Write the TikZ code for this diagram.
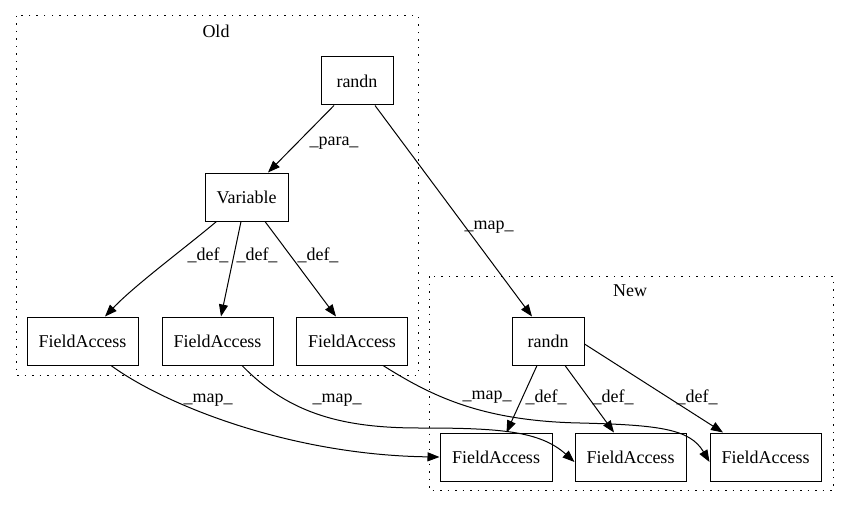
\documentclass[tikz,border=0pt]{standalone}
\usepackage{fontspec}
\setmainfont{Liberation Serif}
\usetikzlibrary{arrows.meta}
\begin{document}
\begin{tikzpicture}[x=1pt,y=-1pt,
  box/.style={draw,line width=1pt,minimum height=48pt,inner sep=0pt,font=\fontsize{18}{20}\selectfont},
  cluster/.style={draw,line width=1pt,dash pattern=on 1.5pt off 6pt},
  title/.style={font=\fontsize{18}{20}\selectfont},
  lbl/.style={font=\fontsize{18}{20}\selectfont,inner sep=0pt},
  edge/.style={line width=1pt,-{Triangle[length=12pt,width=9pt]}}]
\useasboundingbox (0,0) rectangle (848,508);
% clusters
\draw[cluster] (16,16) rectangle (418,375);
\node[title] (told) at (216,31) {Old};
\draw[cluster] (429,276) rectangle (833,490);
\node[title] (tnew) at (630,291) {New};
% nodes
\node[box,minimum width=72pt] (ro) at (357,81) {randn};
\node[box,minimum width=83pt] (v) at (246.5,197) {Variable};
\node[box,minimum width=111pt] (f1) at (82.5,341) {FieldAccess};
\node[box,minimum width=111pt] (f2) at (217.5,341) {FieldAccess};
\node[box,minimum width=111pt] (f3) at (352,341) {FieldAccess};
\node[box,minimum width=72pt] (rn) at (548,341) {randn};
\node[box,minimum width=112pt] (b1) at (496,457) {FieldAccess};
\node[box,minimum width=111pt] (b2) at (630.5,457) {FieldAccess};
\node[box,minimum width=111pt] (b3) at (765.5,457) {FieldAccess};
% edges
\draw[edge] ([xshift=-23pt]ro.south) -- ([xshift=21.5pt]v.north);
\node[lbl] (lpara) at (334,143) {\_para\_};
\draw[edge] ([xshift=18pt]ro.south) -- ([xshift=-16pt]rn.north);
\node[lbl] (lmap0) at (489,227) {\_map\_};
\draw[edge] ([xshift=-30pt]v.south) .. controls (185,248) and (135,285) .. ([xshift=22.5pt]f1.north);
\node[lbl] (ld1) at (208,255) {\_def\_};
\draw[edge] ([xshift=-5.5pt]v.south) -- ([xshift=3.5pt]f2.north);
\node[lbl] (ld2) at (257,255) {\_def\_};
\draw[edge] ([xshift=18.5pt]v.south) -- ([xshift=-16pt]f3.north);
\node[lbl] (ld3) at (318,255) {\_def\_};
\draw[edge] ([xshift=28.5pt]f1.south) .. controls (165,405) and (290,455) .. (b1.west);
\node[lbl] (lm1) at (208,400) {\_map\_};
\draw[edge] ([xshift=24.5pt]f2.south) .. controls (290,415) and (345,428) .. (420,428) .. controls (500,428) and (540,431) .. ([yshift=-5pt]b2.west);
\node[lbl] (lm2) at (337,400) {\_map\_};
\draw[edge] ([xshift=31pt]f3.south) .. controls (430,395) and (480,421) .. (580,423) .. controls (660,425) and (690,429) .. ([yshift=-5pt]b3.west);
\node[lbl] (lm3) at (487,397) {\_map\_};
\draw[edge] ([xshift=-11pt]rn.south) -- ([xshift=10.5pt]b1.north);
\node[lbl] (ld4) at (546,397) {\_def\_};
\draw[edge] ([xshift=17pt]rn.south) -- ([xshift=-16.5pt]b2.north);
\node[lbl] (ld5) at (613,397) {\_def\_};
\draw[edge] ([yshift=-3pt]rn.east) -- ([xshift=-42.5pt]b3.north);
\node[lbl] (ld6) at (697,397) {\_def\_};
\end{tikzpicture}
\end{document}
